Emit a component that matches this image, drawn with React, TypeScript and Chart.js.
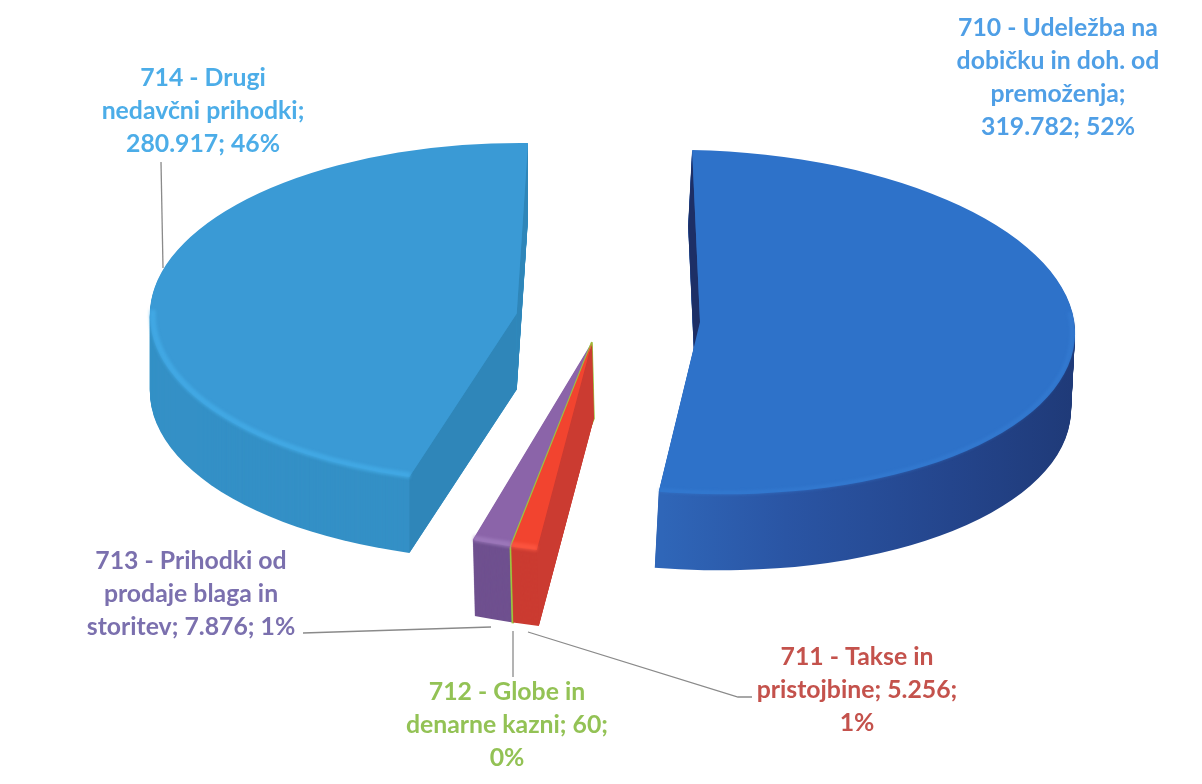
import React, { useEffect, useRef } from "react";
import { Chart, registerables } from "chart.js";

Chart.register(...registerables);

// ---- data ----
const categories = [
  "710 - Udeležba na dobičku in doh. od premoženja",
  "711 - Takse in pristojbine",
  "712 - Globe in denarne kazni",
  "713 - Prihodki od prodaje blaga in storitev",
  "714 - Drugi nedavčni prihodki",
];
const values = [319782, 5256, 60, 7876, 280917];
const label710 = ["710 - Udeležba na", "dobičku in doh. od", "premoženja;", "319.782; 52%"];
const label711 = ["711 - Takse in", "pristojbine; 5.256;", "1%"];
const label712 = ["712 - Globe in", "denarne kazni; 60;", "0%"];
const label713 = ["713 - Prihodki od", "prodaje blaga in", "storitev; 7.876; 1%"];
const label714 = ["714 - Drugi", "nedavčni prihodki;", "280.917; 46%"];

// ---- styles ----
const surfaceColors = ["#2e72c9", "#f2442f", "#9cc63f", "#8b64a9", "#3a9ad5"];
const rimColors = ["#26488f", "#cb3b31", "#9cc63f", "#6f508f", "#3490c6"];
const cutColors = ["#1d2f66", "#cb3b31", "#9cc63f", "#6f508f", "#2f86b9"];
const bevelColors = ["#3c86dc", "#ff5a44", "#b6dc50", "#a27fc0", "#45aeea"];

const R = 375;
const DEPTH = 76;
// per-slice projection of the flat pie onto the tilted picture plane
const views = [
  { a: 1.0, b: 0.02, c: 0.021, d: 0.459, tx: 700, ty: 322, sx: -4 },
  { a: 1.29, b: 0.087, c: 0.022, d: 0.571, tx: 592, ty: 342, sx: 2 },
  { a: 1.29, b: 0.087, c: 0.022, d: 0.571, tx: 592, ty: 342, sx: 2 },
  { a: 1.29, b: 0.087, c: 0.022, d: 0.571, tx: 592, ty: 342, sx: 2 },
  { a: 0.978, b: 0.0095, c: -0.03, d: 0.4545, tx: 516.75, ty: 313.4, sx: 0 },
];
const drawOrder = [4, 0, 3, 2, 1];

const labelStyles = [
  { lines: label710, x: 1058, y: 28, color: "#4f9fe6" },
  { lines: label711, x: 857, y: 657, color: "#c4524c" },
  { lines: label712, x: 507, y: 692, color: "#93c255" },
  { lines: label713, x: 191, y: 561, color: "#7b70ae" },
  { lines: label714, x: 203, y: 78, color: "#4cade8" },
];
const leaders = [
  [[161, 162], [163, 268]],
  [[303, 633], [491, 627]],
  [[513, 631], [513, 677]],
  [[528, 632], [738, 697], [752, 697]],
];

function applyView(ctx: CanvasRenderingContext2D, arc: any, i: number, dy = 0) {
  const v = views[i];
  const dx = (dy / DEPTH) * v.sx;
  ctx.transform(
    v.a, v.b, v.c, v.d,
    v.tx + dx - v.a * arc.x - v.c * arc.y,
    v.ty + dy - v.b * arc.x - v.d * arc.y
  );
}

function wallFill(ctx: CanvasRenderingContext2D, i: number) {
  if (i === 0) {
    const g = ctx.createLinearGradient(662, 0, 1075, 0);
    g.addColorStop(0, "#2f66b8");
    g.addColorStop(0.3, "#2a55a4");
    g.addColorStop(0.7, "#24458c");
    g.addColorStop(1, "#1f3a78");
    return g;
  }
  return rimColors[i];
}

const pie3d = {
  id: "pie3d",
  beforeDatasetsDraw(chart: any) {
    const ctx: CanvasRenderingContext2D = chart.ctx;
    const arcs = chart.getDatasetMeta(0).data;

    // side walls: the slice outline swept down through the depth
    for (const i of drawOrder) {
      const arc = arcs[i];
      const fill = wallFill(ctx, i);
      for (let dy = DEPTH; dy > 0; dy -= 1) {
        ctx.save();
        applyView(ctx, arc, i, dy);
        ctx.beginPath();
        ctx.moveTo(arc.x, arc.y);
        ctx.arc(arc.x, arc.y, arc.outerRadius, arc.startAngle, arc.endAngle);
        ctx.closePath();
        ctx.restore();
        ctx.fillStyle = fill;
        ctx.fill();
        if (i === 2) {
          ctx.strokeStyle = rimColors[i];
          ctx.lineWidth = 2;
          ctx.stroke();
        }
      }
    }

    // flat cut faces
    const cutFace = (i: number, angle: number) => {
      const arc = arcs[i];
      const px = arc.x + Math.cos(angle) * arc.outerRadius;
      const py = arc.y + Math.sin(angle) * arc.outerRadius;
      ctx.save();
      ctx.beginPath();
      ctx.save();
      applyView(ctx, arc, i, 0);
      ctx.moveTo(arc.x, arc.y);
      ctx.lineTo(px, py);
      ctx.restore();
      ctx.save();
      applyView(ctx, arc, i, DEPTH);
      ctx.lineTo(px, py);
      ctx.lineTo(arc.x, arc.y);
      ctx.restore();
      ctx.closePath();
      ctx.fillStyle = cutColors[i];
      ctx.fill();
      ctx.restore();
    };
    cutFace(4, arcs[4].startAngle);
    cutFace(4, arcs[4].endAngle);
    cutFace(1, arcs[1].startAngle);
    cutFace(0, arcs[0].startAngle);

    // top surfaces, drawn by the library's own arc elements
    for (const i of drawOrder) {
      const arc = arcs[i];
      ctx.save();
      applyView(ctx, arc, i, 0);
      arc.draw(ctx);
      ctx.restore();
    }

    // soft bevel along the front edge
    for (const i of drawOrder) {
      if (i === 2) continue;
      const arc = arcs[i];
      const from = Math.max(arc.startAngle, -0.1);
      const to = Math.min(arc.endAngle, Math.PI);
      ctx.save();
      applyView(ctx, arc, i, 0);
      ctx.beginPath();
      ctx.arc(arc.x, arc.y, arc.outerRadius - 3, from, to);
      ctx.restore();
      ctx.save();
      ctx.filter = "blur(1.5px)";
      ctx.strokeStyle = bevelColors[i];
      ctx.globalAlpha = i === 0 ? 0.35 : 0.7;
      ctx.lineWidth = i === 0 ? 4 : 6;
      ctx.stroke();
      ctx.restore();
    }
    return false;
  },
  afterDraw(chart: any) {
    const ctx: CanvasRenderingContext2D = chart.ctx;
    ctx.save();
    ctx.strokeStyle = "#8a8a8a";
    ctx.lineWidth = 1.3;
    for (const line of leaders) {
      ctx.beginPath();
      line.forEach(([x, y], k) => (k ? ctx.lineTo(x, y) : ctx.moveTo(x, y)));
      ctx.stroke();
    }
    ctx.font = "bold 24.8px Lato";
    ctx.textAlign = "center";
    ctx.textBaseline = "middle";
    for (const s of labelStyles) {
      ctx.fillStyle = s.color;
      s.lines.forEach((t, k) => ctx.fillText(t, s.x, s.y + k * 33));
    }
    ctx.restore();
  },
};

export default function App() {
  const ref = useRef<HTMLCanvasElement>(null);
  useEffect(() => {
    const chart = new Chart(ref.current!, {
      type: "pie",
      data: {
        labels: categories,
        datasets: [
          {
            data: values,
            backgroundColor: surfaceColors,
            borderColor: surfaceColors,
            borderWidth: [0, 0, 1.5, 0, 0],
            radius: R,
          } as any,
        ],
      },
      options: {
        responsive: false,
        animation: false,
        layout: { padding: 0 },
        plugins: { legend: { display: false }, tooltip: { enabled: false } },
      },
      plugins: [pie3d as any],
    });
    return () => chart.destroy();
  }, []);
  return (
    <div style={{ position: "absolute", left: 0, top: 0, width: 1202, height: 784, background: "#fff" }}>
      <canvas ref={ref} width={1202} height={784} style={{ display: "block" }} />
    </div>
  );
}
